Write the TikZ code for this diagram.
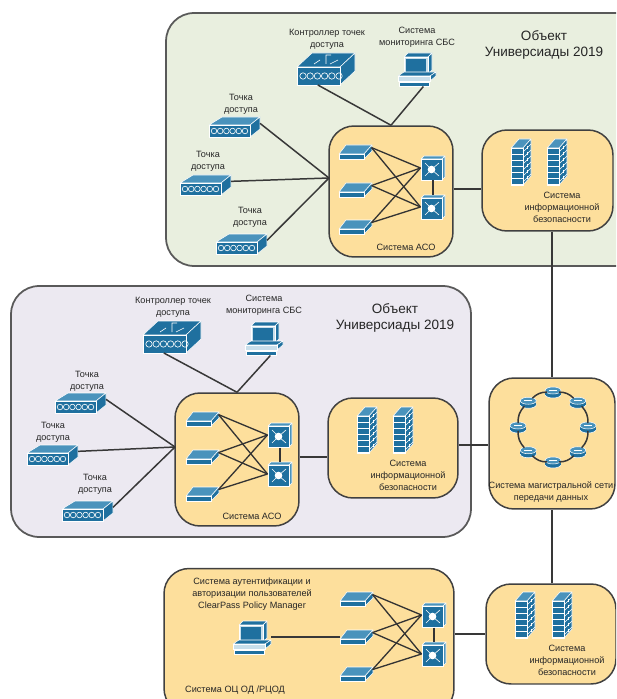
\documentclass[tikz,border=0pt]{standalone}
\usepackage{fontspec}
\setmainfont{Liberation Sans}
\definecolor{iconblue}{HTML}{1F709F}
\definecolor{iconpale}{HTML}{4A93BC}
\definecolor{panelgreen}{HTML}{E9EFDF}
\definecolor{panellilac}{HTML}{ECE9F1}
\definecolor{boxyellow}{HTML}{FDDF9C}
\tikzset{
	panelbox/.style={draw=black!65,line width=1pt,rounded corners=.56cm,inner sep=0pt},
	groupbox/.style={draw=black!75,fill=boxyellow,line width=.85pt,rounded corners=.5cm,inner sep=0pt},
	iconspot/.style={inner sep=0pt,outer sep=0pt},
	iconface/.style={fill=iconblue,draw=white,line width=.3pt,line join=round},
	iconlite/.style={fill=iconpale,draw=white,line width=.3pt,line join=round},
	iconmark/.style={white,line width=.35pt},
	lbl/.style={align=center,inner sep=0pt,text=black!85,font=\fontsize{5.2}{6.8}\selectfont},
	titlelbl/.style={align=center,inner sep=0pt,text=black!85,font=\fontsize{7.7}{9.6}\selectfont},
	netline/.style={draw=black!78,line width=.85pt},
	meshline/.style={draw=black!80,line width=.75pt},
	pics/apicon/.style={code={
		\node[iconspot,minimum width=1.04cm,minimum height=.44cm] (-box) {};
		\filldraw[iconlite] (-25,-2)--(-12,-10)--(26,-10)--(16,-2)--cycle;
		\filldraw[iconface] (16,-2)--(26,-10)--(26,2)--(16,10)--cycle;
		\filldraw[iconface] (-25,-2) rectangle (16,10);
		\foreach \i in {0,...,5} \draw[iconmark] ({-20+6.2*\i},4) circle (2.8);
	}},
	pics/ctrlicon/.style={code={
		\node[iconspot,minimum width=1.16cm,minimum height=.64cm] (-box) {};
		\filldraw[iconface] (-29,-2)--(-14,-16)--(29,-16)--(14,-2)--cycle;
		\filldraw[iconface] (14,-2)--(29,-16)--(29,2)--(14,16)--cycle;
		\filldraw[iconface] (-29,-2) rectangle (14,16);
		\foreach \i in {0,...,5} \draw[iconmark] ({-23+7.2*\i},7) circle (3.2);
		\draw[iconmark] (-12,-5)--(-6,-9) (0,-5)--(0,-14)--(5,-14) (4,-5)--(12,-9);
	}},
	pics/pcicon/.style={code={
		\node[iconspot,minimum width=.76cm,minimum height=.7cm] (-box) {};
		\filldraw[iconface] (-13,-12)--(-9,-16)--(15,-16)--(11,-12)--cycle;
		\filldraw[iconface] (11,-12)--(15,-16)--(15,1)--(11,5)--cycle;
		\filldraw[fill=iconpale!30!white,draw=white,line width=.3pt] (-13,-12) rectangle (11,5);
		\fill[iconblue] (-11,-10) rectangle (9,3);
		\filldraw[iconface] (-19,7)--(-13,3)--(19,3)--(13,7)--cycle;
		\filldraw[iconface] (13,7)--(19,3)--(19,7)--(13,12)--cycle;
		\filldraw[fill=iconpale!30!white,draw=white,line width=.3pt] (-19,7) rectangle (13,12);
		\filldraw[iconface] (-18,13) rectangle (12,17);
	}},
	pics/switchicon/.style={code={
		\node[iconspot,minimum width=.66cm,minimum height=.3cm] (-box) {};
		\filldraw[iconlite] (-16,2)--(-9,-7)--(17,-7)--(9,2)--cycle;
		\filldraw[iconface] (9,2)--(17,-7)--(17,-1)--(9,7)--cycle;
		\filldraw[iconface] (-16,2) rectangle (9,7);
	}},
	pics/mlsicon/.style={code={
		\node[iconspot,minimum width=.5cm,minimum height=.5cm] (-box) {};
		\filldraw[iconlite] (-12,-9)--(-9,-12)--(12,-12)--(9,-9)--cycle;
		\filldraw[iconlite] (9,-9)--(12,-12)--(12,9)--(9,12)--cycle;
		\filldraw[iconface] (-12,-9) rectangle (9,12);
		\foreach \a/\b in {-8/-5,6/-5,-8/8,6/8} \draw[iconmark] (-1.5,1.5)--(\a,\b);
		\fill[white] (-1.5,1.5) circle (3.8);
	}},
	pics/wallicon/.style={code={
		\node[iconspot,minimum width=.4cm,minimum height=.92cm] (-box) {};
		\filldraw[iconlite] (-10,-14)--(-2,-23)--(10,-23)--(2,-14)--cycle;
		\filldraw[iconface] (2,-14)--(10,-23)--(10,14)--(2,23)--cycle;
		\filldraw[iconface] (-10,-14) rectangle (2,23);
		\foreach \i in {0,...,5} {
			\draw[iconmark] (-10,{-8+6*\i})--(2,{-8+6*\i});
			\draw[iconmark] (2,{-10+6*\i})--(10,{-18+6*\i});
		}
		\foreach \i in {0,...,5} \draw[iconmark] (6,{-16+6*\i})--(6,{-13+6*\i});
	}},
	pics/routericon/.style={code={
		\node[iconspot,minimum width=.24cm,minimum height=.16cm] (-box) {};
		\filldraw[iconface] (0,2.5) ellipse (8 and 3.5);
		\fill[iconblue] (-7.8,-1.5) rectangle (7.8,2.5);
		\filldraw[iconlite] (0,-1.5) ellipse (8 and 3.5);
		\draw[iconmark] (-4,-1.5)--(4,-1.5);
	}},
	pics/meshgroup/.style={code={
		\foreach \i/\y in {1/-38,2/0,3/37} \pic (-sw\i) at (-39,\y) {switchicon};
		\foreach \i/\y in {1/-22,2/17} \pic (-ml\i) at (39,\y) {mlsicon};
		\foreach \i in {1,2,3} \foreach \j in {1,2}
			\draw[meshline] (-sw\i-box.15) -- (-ml\j-box.west);
		\draw[meshline] (-ml1-box.south) -- (-ml2-box.north);
	}},
}
\begin{document}
\begin{tikzpicture}[x=.02cm,y=-.02cm]
	\clip (0,0) rectangle (616,699);
	%panels
	\node [panelbox,fill=panelgreen,minimum width=10cm,minimum height=5.06cm] (objA) at (416,139.5) {};
	\node [panelbox,fill=panellilac,minimum width=9.2cm,minimum height=5.02cm] (objB) at (241,411.5) {};
	%yellow groups
	\node [groupbox,minimum width=2.48cm,minimum height=2.62cm] (acoA) at (391,191.5) {};
	\node [groupbox,minimum width=2.62cm,minimum height=2.02cm] (secA) at (547.5,180.5) {};
	\node [groupbox,minimum width=2.48cm,minimum height=2.66cm] (acoB) at (237,459.5) {};
	\node [groupbox,minimum width=2.6cm,minimum height=2cm] (secB) at (393,448) {};
	\node [groupbox,minimum width=2.52cm,minimum height=2.62cm] (trunk) at (552,443.5) {};
	\node [groupbox,minimum width=5.8cm,minimum height=2.9cm] (authbox) at (309,641) {};
	\node [groupbox,minimum width=2.6cm,minimum height=2cm] (secC) at (551,634) {};
	%device groups
	\pic (meshA) at (394,190) {meshgroup};
	\pic (meshB) at (241,457) {meshgroup};
	\pic (meshC) at (395,637) {meshgroup};
	\pic (ctrlA) at (326,69) {ctrlicon};
	\pic (ctrlB) at (172,337) {ctrlicon};
	\pic (pcA) at (417,69) {pcicon};
	\pic (pcB) at (264,338) {pcicon};
	\pic (pcC) at (252,637) {pcicon};
	\foreach \n/\x/\y in {A1/234/127,A2/205/185,A3/241/244,B1/80/403,B2/52/455,B3/87/511}
		\pic (ap\n) at (\x,\y) {apicon};
	\foreach \n/\x in {A1/521,A2/557}
		\pic (wall\n) at (\x,162) {wallicon};
	\foreach \n/\x in {B1/367,B2/403}
		\pic (wall\n) at (\x,430) {wallicon};
	\foreach \n/\x in {C1/525,C2/562}
		\pic (wall\n) at (\x,615) {wallicon};
	\foreach \i in {1,...,8}
		\pic (rt\i) at ({553+35*cos(45*\i)},{427-35*sin(45*\i)}) {routericon};
	%connectors
	\coordinate (hubA) at (329,178);
	\coordinate (hubB) at (175,447);
	\coordinate (linkA) at (440,189);
	\coordinate (linkB) at (310,457);
	\coordinate (linkC) at (470,445);
	\foreach \i in {1,2,3} {
		\draw [netline] (apA\i-box.8) -- (hubA);
		\draw [netline] (apB\i-box.8) -- (hubB);
	}
	\draw [netline] (ctrlA-box.243) -- (acoA.north);
	\draw [netline] (ctrlB-box.243) -- (acoB.north);
	\draw [netline] (pcA-box.-70) -- (acoA.north);
	\draw [netline] (pcB-box.-70) -- (acoB.north);
	\draw [netline] (pcC-box.east) -- (meshC-sw2-box.west);
	\draw [netline] (acoA.east |- linkA) -- (secA.west |- linkA);
	\draw [netline] (acoB.east |- linkB) -- (secB.west |- linkB);
	\draw [netline] (secB.east |- linkC) -- (trunk.west |- linkC);
	\draw [netline] (authbox.east |- secC.west) -- (secC.west);
	\draw [netline] (secA.south -| trunk.north) -- (trunk.north);
	\draw [netline] (secC.north -| trunk.south) -- (trunk.south);
	\foreach \i [evaluate=\i as \nxt using {int(mod(\i,8)+1)}] in {1,...,8}
		\draw [netline] (rt\i-box) to[bend right=22] (rt\nxt-box);
	%labels
	\node [titlelbl] (titleA) at (544,45) {Объект\\Универсиады 2019};
	\node [titlelbl] (titleB) at (395,318) {Объект\\Универсиады 2019};
	\node [lbl] (ctrlAlbl) at (327,39.5) {Контроллер точек\\доступа};
	\node [lbl] (ctrlBlbl) at (173,307.5) {Контроллер точек\\доступа};
	\node [lbl] (pcAlbl) at (417,37) {Система\\мониторинга СБС};
	\node [lbl] (pcBlbl) at (264,305.5) {Система\\мониторинга СБС};
	\foreach \n/\x/\y in {A1/241/104.5,A2/208/161.5,A3/250/217.5,B1/87/381,B2/53/432,B3/95/484.5}
		\node [lbl] (ap\n lbl) at (\x,\y) {Точка\\доступа};
	\node [lbl] (acoAlbl) at (406,247) {Система АСО};
	\node [lbl] (acoBlbl) at (252,516) {Система АСО};
	\node [lbl] (secAlbl) at (562,207) {Система\\информационной\\безопасности};
	\node [lbl] (secBlbl) at (408,475.5) {Система\\информационной\\безопасности};
	\node [lbl] (secClbl) at (567,660) {Система\\информационной\\безопасности};
	\node [lbl] (trunklbl) at (551,492.5) {Система магистральной сети\\передачи данных};
	\node [lbl] (authlbl) at (252,594.5) {Система аутентификации и\\авторизации пользователей\\ClearPass Policy Manager};
	\node [lbl] (ocodlbl) at (235,690) {Система ОЦ ОД /РЦОД};
\end{tikzpicture}
\end{document}
